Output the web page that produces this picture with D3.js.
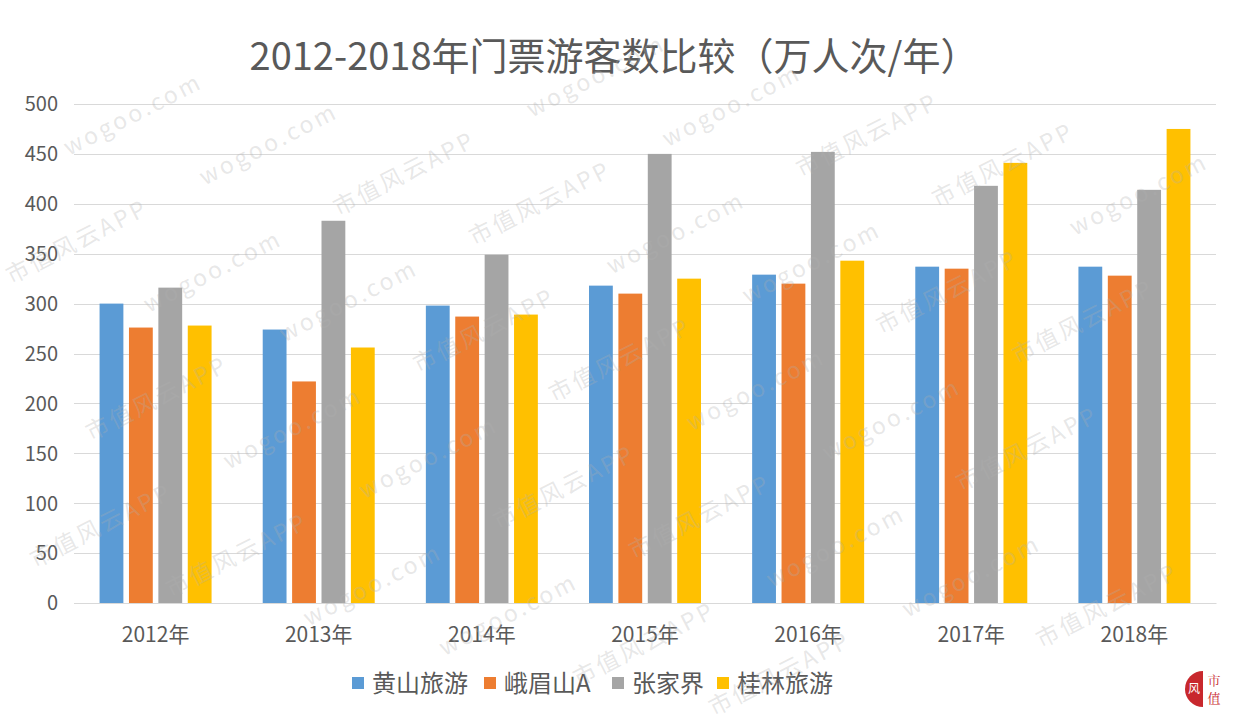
<!DOCTYPE html>
<html><head><meta charset="utf-8">
<script src="https://cdn.jsdelivr.net/npm/d3@7"></script>
<style>html,body{margin:0;padding:0;background:#fff;}svg{display:block;}</style>
</head><body>
<svg id="c" width="1237" height="722"></svg>
<script>
const categories = ["2012年","2013年","2014年","2015年","2016年","2017年","2018年"];
const seriesNames = ["黄山旅游","峨眉山A","张家界","桂林旅游"];
const huangshan = [300, 274, 298, 318, 329, 337, 337];
const emeishan  = [276, 222, 287, 310, 320, 335, 328];
const zhangjiajie = [316, 383, 349, 450, 452, 418, 414];
const guilin    = [278, 256, 289, 325, 343, 441, 475];
const yTicks = [0,50,100,150,200,250,300,350,400,450,500];
const colors = ["#5B9BD5","#ED7D31","#A5A5A5","#FFC000"];
const title = "2012-2018年门票游客数比较（万人次/年）";
const seriesValues = [huangshan, emeishan, zhangjiajie, guilin];
const watermarkWords = ["市值风云APP", "wogoo.com"];

(function(){
const svg = d3.select("#c");
const font = "'Noto Sans CJK SC','Noto Sans',sans-serif";
const pLeft = 74, pRight = 1216, pTop = 104, pBottom = 603;

const x = d3.scaleBand().domain(categories).range([pLeft, pRight]).padding(0);
const x1 = d3.scaleBand().domain(seriesNames).range([0, 112]).paddingInner(0.19).paddingOuter(0);
const y = d3.scaleLinear().domain([0, 500]).range([pBottom, pTop]);

// gridlines
svg.append("g").selectAll("line").data(yTicks).join("line")
  .attr("x1", pLeft).attr("x2", pRight)
  .attr("y1", d => Math.round(y(d)) + 0.5).attr("y2", d => Math.round(y(d)) + 0.5)
  .attr("stroke", "#d9d9d9").attr("stroke-width", 1);

// y labels
const yAxis = d3.axisLeft(y).tickValues(yTicks).tickSize(0).tickPadding(0);
const ya = svg.append("g").attr("transform", `translate(${pLeft-16},0)`).call(yAxis);
ya.select(".domain").remove();
ya.selectAll("text").attr("font-family", font).attr("font-size", 20).attr("fill", "#595959").attr("dy", "0.34em");

// bars
const groups = svg.append("g").selectAll("g").data(categories).join("g")
  .attr("transform", d => `translate(${x(d) + x.bandwidth()/2 - 56},0)`);
groups.selectAll("rect").data((d, i) => seriesNames.map((s, j) => ({s, v: seriesValues[j][i], j})))
  .join("rect")
  .attr("x", d => x1(d.s)).attr("width", x1.bandwidth())
  .attr("y", d => y(d.v)).attr("height", d => y(0) - y(d.v))
  .attr("fill", d => colors[d.j]);

// x axis
const xAxis = d3.axisBottom(x).tickSize(0).tickPadding(0);
const xa = svg.append("g").attr("transform", `translate(0,${pBottom})`).call(xAxis);
xa.select(".domain").attr("stroke", "#d9d9d9");
xa.selectAll("text").attr("font-family", font).attr("font-size", 21).attr("fill", "#595959").attr("y", 31).attr("dy", "0.36em");

// title
svg.append("text").attr("x", 614).attr("y", 70).attr("text-anchor", "middle")
  .attr("font-family", font).attr("font-size", 38).attr("fill", "#595959").text(title);

// legend
const legX = [352, 484, 612, 717];
const leg = svg.append("g").selectAll("g").data(seriesNames).join("g")
  .attr("transform", (d, i) => `translate(${legX[i]},683)`);
leg.append("rect").attr("x", 0).attr("y", -6).attr("width", 12).attr("height", 12).attr("fill", (d, i) => colors[i]);
leg.append("text").attr("x", 20).attr("y", 0).attr("dy", "0.36em")
  .attr("font-family", font).attr("font-size", 24).attr("fill", "#595959").text(d => d);

// watermark words on a rotated grid, only those fully inside the canvas
const deg = -27, ang = deg * Math.PI / 180;
const ca = Math.cos(ang), sa = Math.sin(ang);
const stepU = 215, stepV = 88;
const items = [];
for (let v = -14; v <= 14; v++) {
  for (let u = -14; u <= 14; u++) {
    const uu = u * stepU + (((v % 2) + 2) % 2) * stepU / 2;
    const vv = v * stepV;
    const cx = 620 + uu * ca - vv * sa;
    const cy = 360 + uu * sa + vv * ca;
    const w = watermarkWords[((u + v) % 2 + 2) % 2];
    const hw = 78;
    const ex = hw * ca + 12 * Math.abs(sa), ey = hw * Math.abs(sa) + 12 * ca;
    if (cx - ex > 2 && cx + ex < 1235 && cy - ey > 2 && cy + ey < 720) items.push({cx, cy, w});
  }
}
svg.append("g").attr("pointer-events", "none").selectAll("text").data(items).join("text")
  .attr("transform", d => `translate(${d.cx},${d.cy}) rotate(${deg})`)
  .attr("text-anchor", "middle").attr("dy", "0.35em")
  .attr("font-family", font).attr("font-size", 23).attr("letter-spacing", 3)
  .attr("fill", "#b0b0b0").attr("fill-opacity", 0.3)
  .text(d => d.w);

// logo
const logo = svg.append("g").attr("transform", "translate(1203,689)");
logo.append("path").attr("d", d3.arc()({innerRadius: 0, outerRadius: 18, startAngle: Math.PI, endAngle: 2 * Math.PI})).attr("fill", "#c8282d");
logo.append("text").attr("x", -9).attr("y", 0).attr("text-anchor", "middle").attr("dy", "0.35em").attr("font-family", font).attr("font-size", 12).attr("fill", "#fff").text("风");
logo.append("text").attr("x", 11).attr("y", -9).attr("text-anchor", "middle").attr("dy", "0.35em").attr("font-family", "'Noto Serif CJK SC','Noto Sans CJK SC',serif").attr("font-size", 13).attr("fill", "#c8282d").text("市");
logo.append("text").attr("x", 11).attr("y", 9).attr("text-anchor", "middle").attr("dy", "0.35em").attr("font-family", "'Noto Serif CJK SC','Noto Sans CJK SC',serif").attr("font-size", 13).attr("fill", "#c8282d").text("值");
})();
</script>
</body></html>
